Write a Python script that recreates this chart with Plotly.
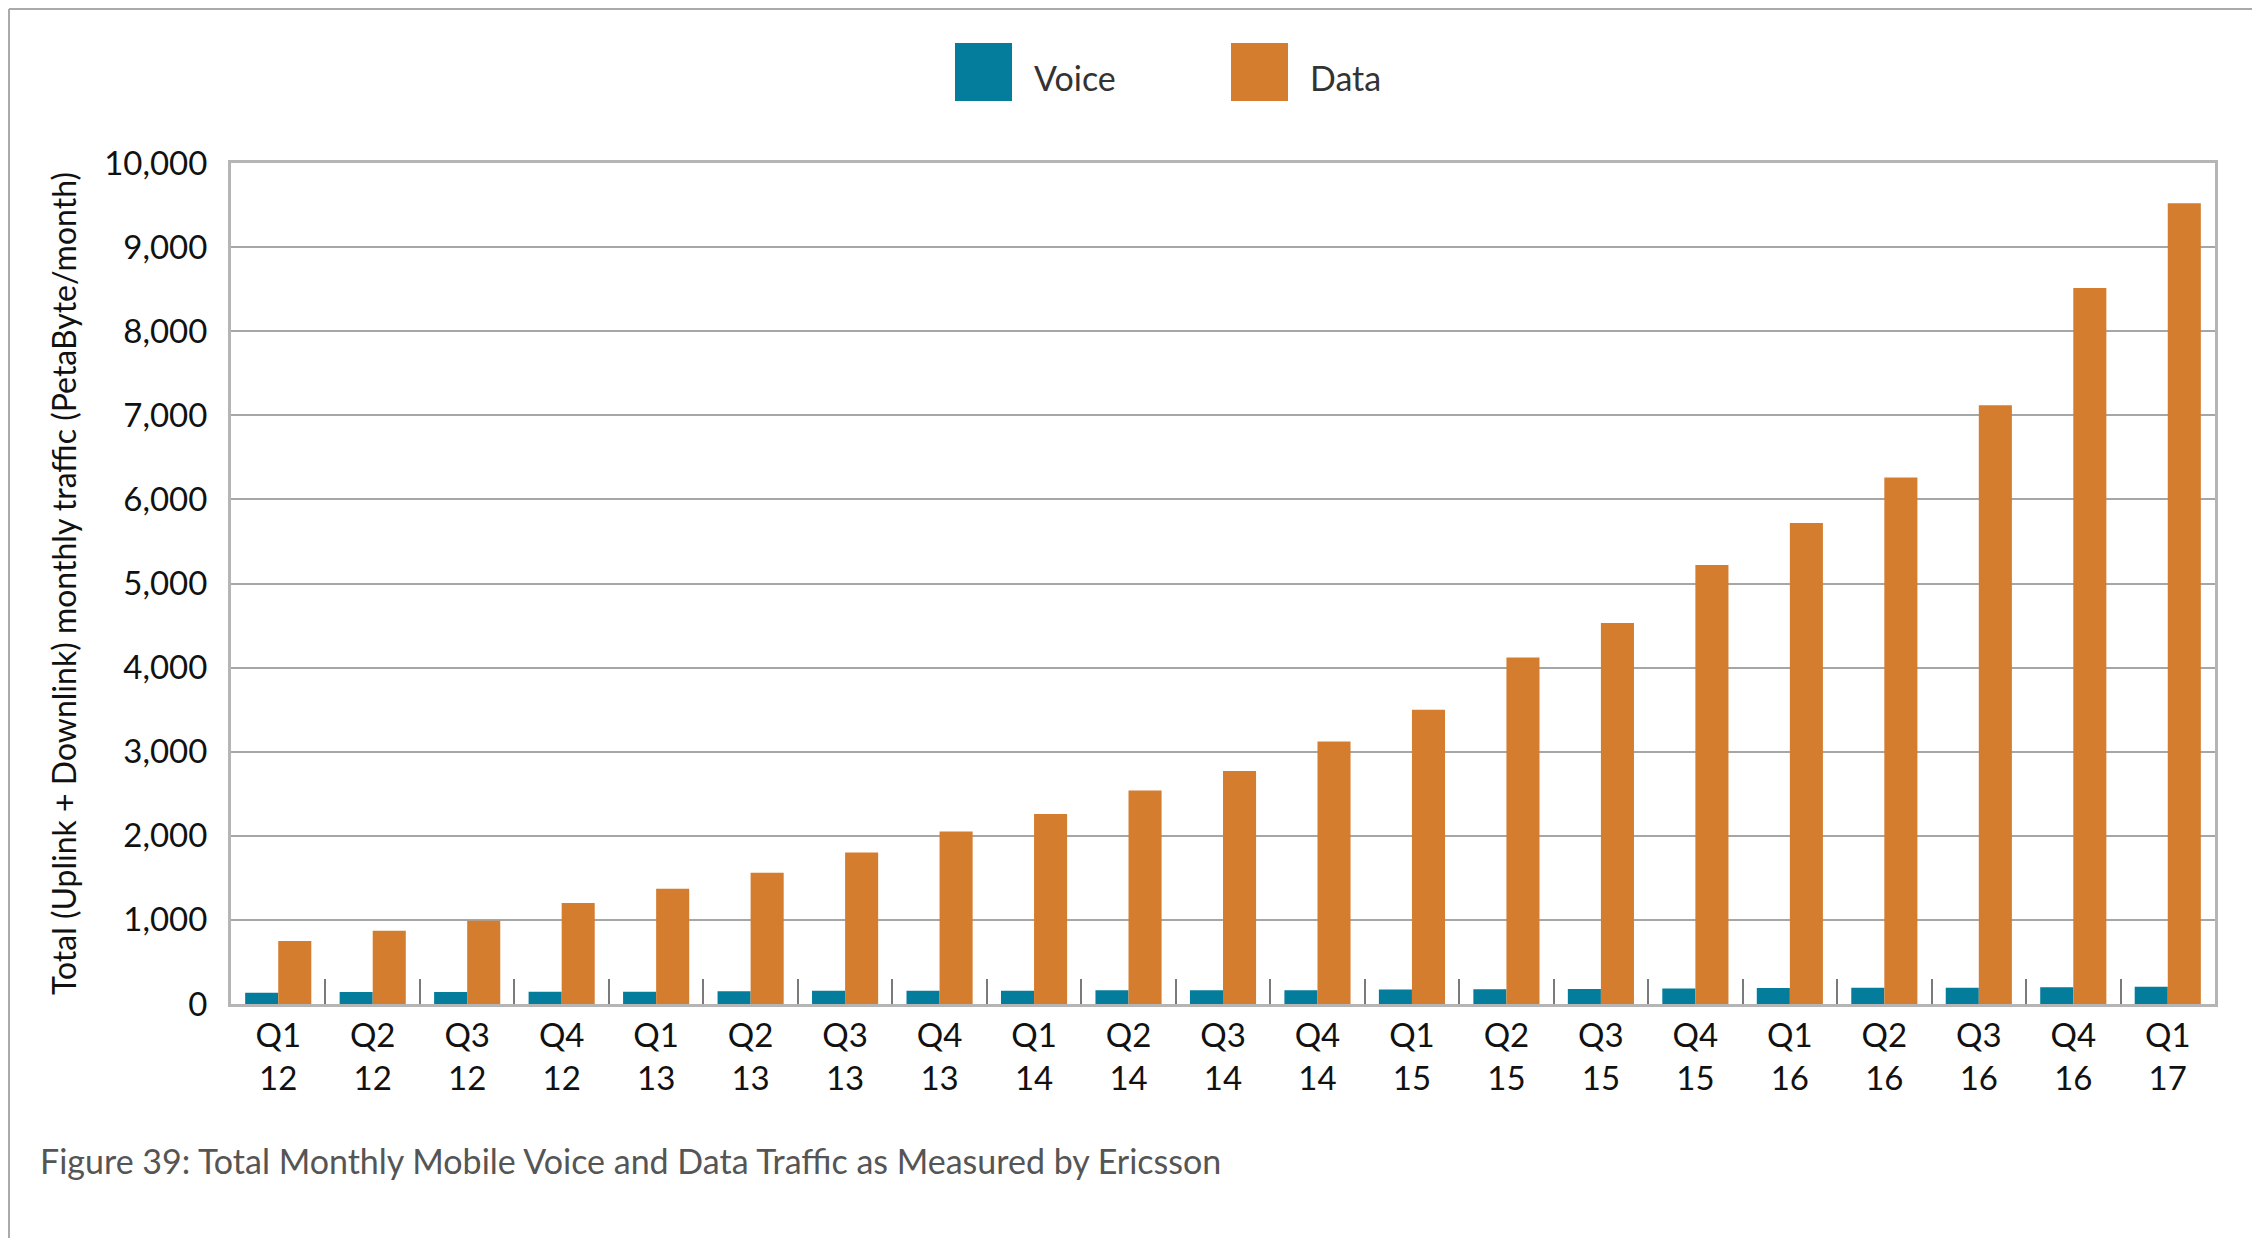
import plotly.graph_objects as go

quarters = ["Q1", "Q2", "Q3", "Q4", "Q1", "Q2", "Q3", "Q4", "Q1", "Q2", "Q3", "Q4",
            "Q1", "Q2", "Q3", "Q4", "Q1", "Q2", "Q3", "Q4", "Q1"]
years = ["12", "12", "12", "12", "13", "13", "13", "13", "14", "14", "14", "14",
         "15", "15", "15", "15", "16", "16", "16", "16", "17"]
categories = [f"{q}<br>{y}" for q, y in zip(quarters, years)]

voice = [135, 143, 143, 147, 147, 151, 159, 159, 159, 163, 163, 163,
         171, 175, 179, 183, 190, 194, 194, 198, 206]
data = [750, 870, 990, 1200, 1370, 1560, 1800, 2050, 2260, 2540, 2770, 3120,
        3500, 4120, 4530, 5220, 5720, 6260, 7120, 8515, 9520]

series_names = ["Voice", "Data"]
series_colors = ["#037D9B", "#D47D2F"]

OFF = 8  # page body margin
W, H = 2260 - OFF, 1238 - OFF
L, R, T, B = 231 - OFF, 45, 163 - OFF, 234
pw, ph = W - L - R, H - T - B

def px_x(x):
    return (x - OFF - L) / pw

def px_y(y):
    return (H - B - (y - OFF)) / ph

FONT = "Lato, 'Noto Sans', sans-serif"

fig = go.Figure()
fig.add_trace(go.Bar(x=categories, y=voice, name=series_names[0],
                     marker=dict(color=series_colors[0], line=dict(width=0))))
fig.add_trace(go.Bar(x=categories, y=data, name=series_names[1],
                     marker=dict(color=series_colors[1], line=dict(width=0))))

shapes = []
annotations = []
# custom legend
legend_x = [955, 1231]
for i, (nm, col) in enumerate(zip(series_names, series_colors)):
    shapes.append(dict(type="rect", xref="paper", yref="paper",
                       x0=px_x(legend_x[i]), x1=px_x(legend_x[i] + 57),
                       y0=px_y(101), y1=px_y(43),
                       fillcolor=col, line=dict(width=0)))
    annotations.append(dict(xref="paper", yref="paper", x=px_x(legend_x[i] + 77),
                            y=px_y(77), xanchor="left", yanchor="middle",
                            text=nm, showarrow=False,
                            font=dict(family=FONT, size=34, color="#333333")))

# outer frame lines (left and top)
shapes.append(dict(type="line", xref="paper", yref="paper",
                   x0=px_x(OFF + 1), x1=px_x(OFF + 1), y0=px_y(1238), y1=px_y(OFF + 1),
                   line=dict(color="#aaaaaa", width=2)))
shapes.append(dict(type="line", xref="paper", yref="paper",
                   x0=px_x(OFF + 1), x1=px_x(2260), y0=px_y(OFF + 1), y1=px_y(OFF + 1),
                   line=dict(color="#aaaaaa", width=2)))

# caption
annotations.append(dict(xref="paper", yref="paper", x=px_x(38), y=px_y(1160),
                        xanchor="left", yanchor="middle", showarrow=False,
                        text="Figure 39: Total Monthly Mobile Voice and Data Traffic as Measured by Ericsson",
                        font=dict(family=FONT, size=34, color="#555555")))

fig.update_layout(
    width=W, height=H,
    margin=dict(l=L, r=R, t=T, b=B, autoexpand=False),
    paper_bgcolor="white", plot_bgcolor="white",
    barmode="group", bargap=0.3, bargroupgap=0,
    showlegend=False,
    shapes=shapes, annotations=annotations,
    font=dict(family=FONT, color="#111111"),
    xaxis=dict(
        type="category",
        tickson="boundaries", ticks="inside", ticklen=25, tickwidth=2,
        tickcolor="#7a7a7a",
        showline=True, linecolor="#b5b5b5", linewidth=3, mirror=True,
        showgrid=False,
        tickfont=dict(family=FONT, size=33, color="#111111"),
    ),
    yaxis=dict(
        range=[0, 10000], dtick=1000, tickformat=",d",
        showgrid=True, gridcolor="#a6a6a6", gridwidth=2,
        showline=True, linecolor="#b5b5b5", linewidth=3, mirror=True,
        zeroline=False, ticks="", ticklabelstandoff=14,
        tickfont=dict(family=FONT, size=33, color="#111111"),
        title=dict(text="Total (Uplink + Downlink) monthly traffic (PetaByte/month)",
                   font=dict(family=FONT, size=32, color="#111111"), standoff=18),
    ),
)

fig.write_html("out.html")
